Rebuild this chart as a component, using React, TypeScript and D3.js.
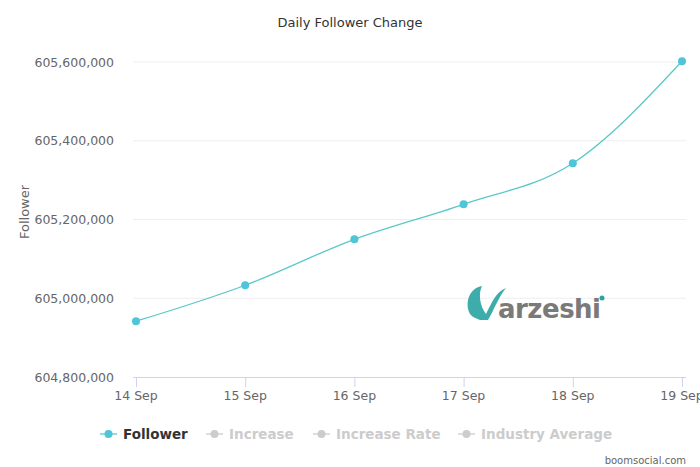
import React from "react";
import * as d3 from "d3";

const categories = ["14 Sep", "15 Sep", "16 Sep", "17 Sep", "18 Sep", "19 Sep"];
const followerValues = [604941600, 605033000, 605149800, 605238700, 605342900, 605602000];
const yTicks = [604800000, 605000000, 605200000, 605400000, 605600000];
const legendItems = ["Follower", "Increase", "Increase Rate", "Industry Average"];

const W = 700, H = 467;
const FONT = "'DejaVu Sans', 'Lucida Grande', sans-serif";

export default function App() {
  const x = d3.scalePoint<string>().domain(categories).range([136, 682]);
  const y = d3.scaleLinear().domain([604800000, 605600000]).range([377, 62]);
  const fmt = d3.format(",");
  const line = d3
    .line<number>()
    .x((_, i) => x(categories[i])!)
    .y((d) => y(d))
    .curve(d3.curveMonotoneX);

  const legendX = [100, 206, 313, 458];
  return (
    <div style={{ position: "fixed", left: 0, top: 0 }}>
      <svg width={W} height={H} style={{ display: "block", background: "#fff" }} fontFamily={FONT}>
        <text x={350} y={27} textAnchor="middle" fontSize={13} fill="#333">
          Daily Follower Change
        </text>
        {yTicks.map((t) => (
          <g key={t}>
            {t !== 604800000 && (
              <line x1={133} x2={686} y1={y(t)} y2={y(t)} stroke="#eeeeee" strokeWidth={1} />
            )}
            <text x={114} y={y(t) + 4.5} textAnchor="end" fontSize={12.5} fill="#666">
              {fmt(t)}
            </text>
          </g>
        ))}
        <text
          transform={`translate(29,212) rotate(-90)`}
          textAnchor="middle"
          fontSize={13}
          fill="#666"
        >
          Follower
        </text>
        <line x1={133} x2={686} y1={377.5} y2={377.5} stroke="#ccd6eb" strokeWidth={1} />
        {categories.map((c) => (
          <g key={c}>
            <line x1={x(c)! + 0.5} x2={x(c)! + 0.5} y1={377} y2={387} stroke="#ccd6eb" />
            <text x={x(c)!} y={400} textAnchor="middle" fontSize={12.5} fill="#666">
              {c}
            </text>
          </g>
        ))}
        {/* watermark logo */}
        <g transform="translate(466,284)">
          <path d="M4,30 C-2,18 4,4 16,2 C12,10 14,22 20,30 C26,18 30,8 40,4 C32,14 28,26 22,36 L14,36 C10,34 6,33 4,30 Z" fill="#2aa3a3" opacity={0.9} />
          <text x={32} y={34} fontSize={26} fontWeight="bold" fill="#7a7a7a" fontFamily="'DejaVu Sans', sans-serif" letterSpacing={-0.5}>
            arzeshi
          </text>
          <circle cx={136} cy={14} r={2.5} fill="#2aa3a3" />
        </g>
        <path d={line(followerValues) || ""} fill="none" stroke="#5bc8c8" strokeWidth={1.3} />
        {followerValues.map((v, i) => (
          <circle key={i} cx={x(categories[i])!} cy={y(v)} r={4} fill="#4ec5d9" />
        ))}
        {legendItems.map((name, i) => {
          const active = i === 0;
          const col = active ? "#4ec5d9" : "#cccccc";
          const lx = legendX[i];
          return (
            <g key={name}>
              <line x1={lx} x2={lx + 17} y1={434} y2={434} stroke={active ? "#5bc8c8" : "#cccccc"} strokeWidth={1.3} />
              <circle cx={lx + 8.5} cy={434} r={4} fill={col} />
              <text x={lx + 23} y={439} fontSize={13.5} fontWeight="bold" fill={active ? "#333" : "#cccccc"}>
                {name}
              </text>
            </g>
          );
        })}
        <text x={686} y={464} textAnchor="end" fontSize={10} fill="#666">
          boomsocial.com
        </text>
      </svg>
    </div>
  );
}
